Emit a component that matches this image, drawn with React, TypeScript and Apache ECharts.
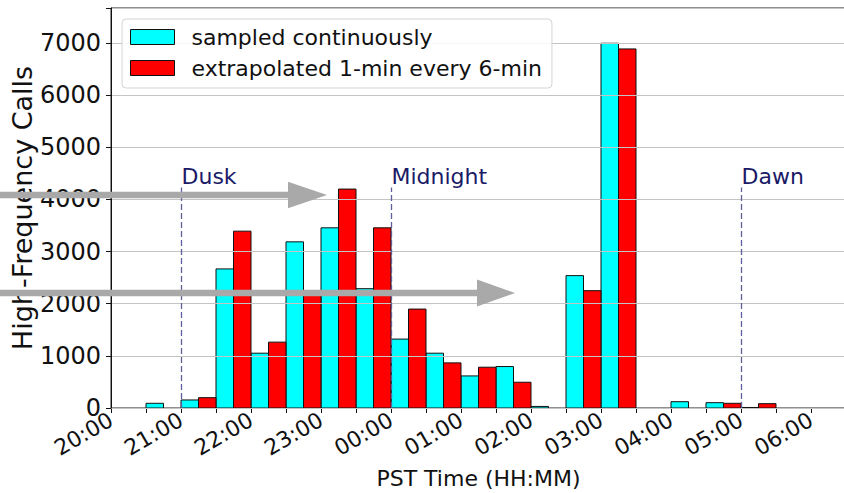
import React, { useEffect, useRef } from "react";
import * as echarts from "echarts";

// Half-hour bins starting at 20:00 (minutes after 20:00)
const binStarts = [0, 30, 60, 90, 120, 150, 180, 210, 240, 270, 300, 330, 360, 390, 420, 450, 480, 510, 540, 570];
const sampledContinuously = [0, 90, 154, 2667, 1051, 3186, 3455, 2288, 1321, 1051, 615, 795, 30, 2538, 6994, 0, 121, 102, 10, 0];
const extrapolated = [0, 0, 198, 3391, 1263, 2250, 4198, 3455, 1897, 865, 782, 494, 0, 2250, 6885, 0, 0, 90, 83, 0];
const yTicks = [0, 1000, 2000, 3000, 4000, 5000, 6000, 7000];
const events = ["Dusk", "Midnight", "Dawn"];
const eventTimes = [60, 240, 540];
const eventLineTop = 4226;

const FONT = "DejaVu Sans";

function hourLabel(v: number): string {
  if (v % 60 !== 0) return "";
  const h = (20 + v / 60) % 24;
  return String(h).padStart(2, "0") + ":00";
}

function makeRender(color: string, offset: number) {
  return (params: any, api: any) => {
    const x0 = api.value(0);
    const v = api.value(1);
    if (!v) return null;
    const p0 = api.coord([x0 + offset, v]);
    const p1 = api.coord([x0 + offset + 15, 0]);
    return {
      type: "rect",
      shape: { x: p0[0], y: p0[1], width: p1[0] - p0[0], height: p1[1] - p0[1] },
      style: { fill: color, stroke: "#111", lineWidth: 1 },
    };
  };
}

export default function App() {
  const ref = useRef<HTMLDivElement>(null);
  useEffect(() => {
    if (!ref.current) return;
    const chart = echarts.init(ref.current, undefined, { renderer: "svg" });
    const cyanData = binStarts.map((b, i) => [b, sampledContinuously[i]]);
    const redData = binStarts.map((b, i) => [b, extrapolated[i]]);
    chart.setOption({
      animation: false,
      backgroundColor: "#ffffff",
      textStyle: { fontFamily: FONT },
      grid: {
        left: 111,
        top: 8,
        width: 735,
        height: 400,
        show: true,
        borderColor: "#222",
        borderWidth: 1,
        containLabel: false,
        outerBoundsMode: "none",
      },
      legend: {
        orient: "vertical",
        left: 122,
        top: 19,
        backgroundColor: "rgba(255,255,255,0.85)",
        borderColor: "#d4d4d4",
        borderWidth: 1,
        borderRadius: 4,
        padding: [7, 10, 9, 8],
        itemGap: 9,
        itemWidth: 44,
        itemHeight: 15,
        icon: "rect",
        itemStyle: { borderColor: "#111", borderWidth: 1 },
        textStyle: { fontSize: 22, fontFamily: FONT, color: "#111", padding: [0, 0, 0, 12] },
        data: ["sampled continuously", "extrapolated 1-min every 6-min"],
      },
      xAxis: {
        type: "value",
        min: 0,
        max: 630,
        interval: 30,
        name: "PST Time (HH:MM)",
        nameLocation: "middle",
        nameGap: 59,
        nameMoveOverlap: false,
        nameTextStyle: { fontSize: 22, fontFamily: FONT, color: "#111" },
        axisLine: { show: true, lineStyle: { color: "#111", width: 1 } },
        axisTick: { show: true, inside: false, length: 5, lineStyle: { color: "#111" } },
        axisLabel: {
          rotate: 30,
          margin: 10,
          fontSize: 22,
          fontFamily: FONT,
          color: "#111",
          formatter: (v: number) => hourLabel(v),
        },
        splitLine: { show: false },
      },
      yAxis: {
        type: "value",
        min: 0,
        max: 7670,
        interval: 1000,
        z: 3,
        name: "High-Frequency Calls",
        nameLocation: "middle",
        nameGap: 75,
        nameMoveOverlap: false,
        nameTextStyle: { fontSize: 27, fontFamily: FONT, color: "#111" },
        axisLine: { show: true, lineStyle: { color: "#111", width: 1 } },
        axisTick: { show: true, inside: false, length: 5, lineStyle: { color: "#111" } },
        axisLabel: {
          margin: 10,
          fontSize: 24,
          fontFamily: FONT,
          color: "#111",
          formatter: (v: number) => (yTicks.indexOf(v) >= 0 ? String(v) : ""),
        },
        splitLine: { show: true, lineStyle: { color: "#c4c4c4", width: 1 } },
      },
      series: [
        {
          name: "sampled continuously",
          type: "custom",
          renderItem: makeRender("#00ffff", 0),
          itemStyle: { color: "#00ffff" },
          encode: { x: 0, y: 1 },
          data: cyanData,
          z: 2,
          markLine: {
            silent: true,
            symbol: "none",
            label: { show: false },
            lineStyle: { type: [6, 3], color: "#5f5f9c", width: 1.3 },
            data: eventTimes.map((t) => [
              { coord: [t, 0] },
              { coord: [t, eventLineTop] },
            ]),
          },
        },
        {
          name: "extrapolated 1-min every 6-min",
          type: "custom",
          renderItem: makeRender("#ff0000", 15),
          itemStyle: { color: "#ff0000" },
          encode: { x: 0, y: 1 },
          data: redData,
          z: 2,
        },
        {
          name: "events",
          type: "scatter",
          symbolSize: 1,
          itemStyle: { color: "transparent" },
          silent: true,
          data: events.map((n, i) => ({ name: n, value: [eventTimes[i], eventLineTop] })),
          label: {
            show: true,
            formatter: (p: any) => p.name,
            position: [1, 0],
            align: "left",
            verticalAlign: "bottom",
            fontSize: 22,
            fontFamily: FONT,
            color: "#1a1a66",
            opacity: 1,
          },
          z: 4,
        },
      ],
      graphic: [
        {
          type: "polygon",
          z: 100,
          shape: {
            points: [[0, 191.8], [288, 191.8], [288, 181.7], [327, 195], [288, 208.3], [288, 198.2], [0, 198.2]],
          },
          style: { fill: "#a9a9a9" },
        },
        {
          type: "polygon",
          z: 100,
          shape: {
            points: [[0, 289.8], [477, 289.8], [477, 279.5], [515, 293], [477, 306.5], [477, 296.2], [0, 296.2]],
          },
          style: { fill: "#a9a9a9" },
        },
      ],
    });
    return () => chart.dispose();
  }, []);
  return (
    <div
      ref={ref}
      style={{ position: "fixed", left: 0, top: 0, width: 844, height: 493, background: "#fff" }}
    />
  );
}
